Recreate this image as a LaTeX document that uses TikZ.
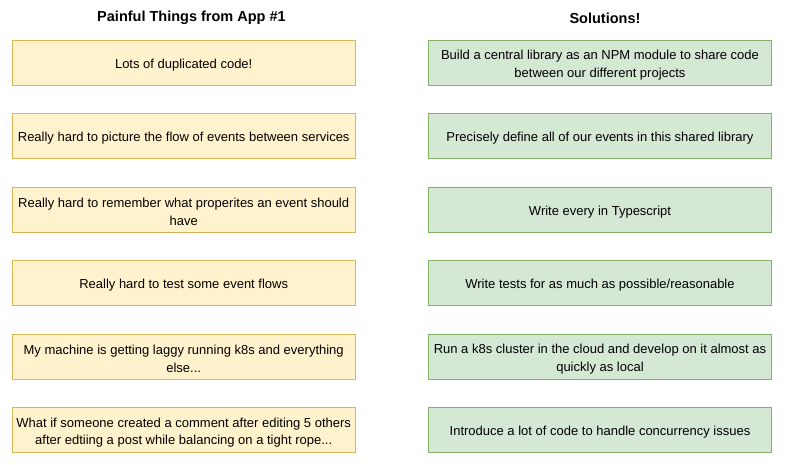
\documentclass[tikz,border=0pt]{standalone}
\usepackage{fontspec}
\setmainfont{Liberation Sans}
\definecolor{painfill}{HTML}{FFF2CC}
\definecolor{paindraw}{HTML}{D6B656}
\definecolor{solfill}{HTML}{D5E8D4}
\definecolor{soldraw}{HTML}{82B366}
\begin{document}
\begin{tikzpicture}[x=1pt,y=-1pt,
  card/.style={draw, line width=0.9pt, minimum width=343.5pt, minimum height=45pt,
    inner sep=0pt, align=center, font=\fontsize{13}{17.6}\selectfont},
  pain/.style={card, fill=painfill, draw=paindraw},
  fix/.style={card, fill=solfill, draw=soldraw},
  label/.style={inner sep=0pt, align=center, font=\fontsize{13}{17.6}\selectfont, yshift=-2.5pt},
  heading/.style={font=\fontsize{14.5}{17}\selectfont\bfseries, inner sep=0pt}]
\useasboundingbox (0,0) rectangle (785,465);

% column headings
\node[heading] (hpain) at (191.5,18) {Painful Things from App \#1};
\node[heading] (hfix)  at (605,18) {Solutions!};

% problems (boxes, then their texts)
\node[pain] (p1) at (183.7,62.5)  {};
\node[pain] (p2) at (183.7,136)   {};
\node[pain] (p3) at (183.7,209.5) {};
\node[pain] (p4) at (183.7,283)   {};
\node[pain] (p5) at (183.7,356.5) {};
\node[pain] (p6) at (183.7,430)   {};
\node[label] (tp1) at (p1) {Lots of duplicated code!};
\node[label] (tp2) at (p2) {Really hard to picture the flow of events between services};
\node[label] (tp3) at (p3) {Really hard to remember what properites an event should\\have};
\node[label] (tp4) at (p4) {Really hard to test some event flows};
\node[label] (tp5) at (p5) {My machine is getting laggy running k8s and everything\\else...};
\node[label] (tp6) at (p6) {What if someone created a comment after editing 5 others\\after edtiing a post while balancing on a tight rope...};

% solutions (boxes, then their texts)
\node[fix] (s1) at (600,62.5)  {};
\node[fix] (s2) at (600,136)   {};
\node[fix] (s3) at (600,209.5) {};
\node[fix] (s4) at (600,283)   {};
\node[fix] (s5) at (600,356.5) {};
\node[fix] (s6) at (600,430)   {};
\node[label] (ts1) at (s1) {Build a central library as an NPM module to share code\\between our different projects};
\node[label] (ts2) at (s2) {Precisely define all of our events in this shared library};
\node[label] (ts3) at (s3) {Write every in Typescript};
\node[label] (ts4) at (s4) {Write tests for as much as possible/reasonable};
\node[label] (ts5) at (s5) {Run a k8s cluster in the cloud and develop on it almost as\\quickly as local};
\node[label] (ts6) at (s6) {Introduce a lot of code to handle concurrency issues};
\end{tikzpicture}
\end{document}
